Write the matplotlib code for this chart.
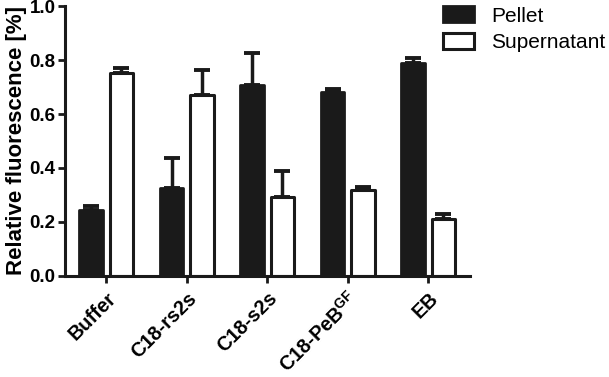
import matplotlib
matplotlib.use('Agg')
import matplotlib.pyplot as plt
import numpy as np

plt.rcParams['font.family'] = ['Liberation Sans', 'DejaVu Sans']
plt.rcParams['mathtext.fontset'] = 'custom'
plt.rcParams['mathtext.rm'] = 'Liberation Sans'
plt.rcParams['mathtext.bf'] = 'Liberation Sans:bold'

groups = ['Buffer', 'C18-rs2s', 'C18-s2s', r'C18-PeB$^{\mathbf{GF}}$', 'EB']
pellet = [0.244, 0.326, 0.708, 0.682, 0.790]
pellet_err = [0.016, 0.111, 0.117, 0.011, 0.016]
supernatant = [0.753, 0.670, 0.292, 0.320, 0.212]
supernatant_err = [0.016, 0.093, 0.097, 0.010, 0.018]

fig = plt.figure(figsize=(6.09, 3.77), dpi=100)
ax = fig.add_axes([0.107, 0.268, 0.665, 0.716])

x = np.arange(len(groups))
w = 0.29
off = 0.188
ek = dict(ecolor='#1a1a1a', elinewidth=2.5, capsize=5.5, capthick=2.8)

b1 = ax.bar(x - off, pellet, w, color='#1a1a1a', edgecolor='#1a1a1a', linewidth=2.0,
            label='Pellet', zorder=2)
ax.errorbar(x - off, pellet, yerr=[np.zeros(5), pellet_err], fmt='none', zorder=1, **ek)
b2 = ax.bar(x + off, supernatant, w, color='white', edgecolor='#1a1a1a', linewidth=2.2,
            label='Supernatant', zorder=2)
ax.errorbar(x + off, supernatant, yerr=[np.zeros(5), supernatant_err], fmt='none', zorder=1, **ek)
for p in list(b1) + list(b2):
    p.set_joinstyle('round')

ax.set_xlim(-0.51, 4.52)
ax.set_ylim(0, 1.0)
ax.set_yticks([0.0, 0.2, 0.4, 0.6, 0.8, 1.0])
ax.set_yticklabels(['0.0', '0.2', '0.4', '0.6', '0.8', '1.0'], fontsize=13.5, fontweight='bold')
ax.set_xticks(x)
ax.set_xticklabels(groups, rotation=45, ha='right', va='top', rotation_mode='anchor',
                   fontsize=14.3, fontweight='bold')
ax.set_ylabel('Relative fluorescence [%]', fontsize=16, fontweight='bold', labelpad=2)

for s in ['top', 'right']:
    ax.spines[s].set_visible(False)
for s in ['left', 'bottom']:
    ax.spines[s].set_linewidth(2.2)
    ax.spines[s].set_color('#1a1a1a')
ax.tick_params(axis='both', direction='out', length=5, width=2, color='#1a1a1a', pad=2)
ax.tick_params(axis='x', pad=4)

fig.legend(loc='upper left', bbox_to_anchor=(0.714, 1.005), frameon=False, fontsize=15,
           handlelength=1.5, handleheight=0.8, handletextpad=0.8, labelspacing=0.35,
           borderaxespad=0)

fig.savefig('out.png', dpi=100)
